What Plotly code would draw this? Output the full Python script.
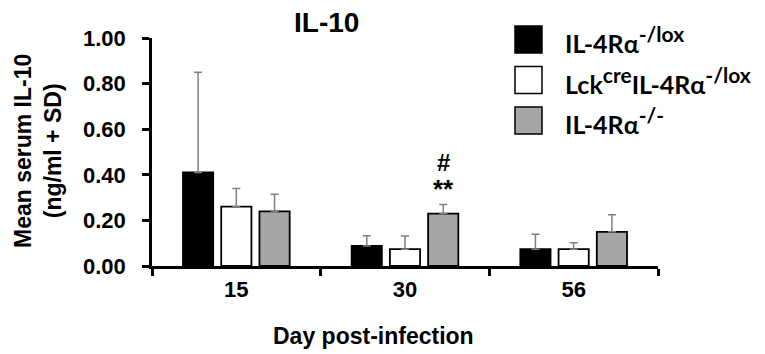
import plotly.graph_objects as go

days = ["15", "30", "56"]
sup = '<sup><span style="font-size:21px">{}</span></sup>'
series_names = ["IL-4Rα" + sup.format("-/lox"),
                "Lck" + sup.format("cre") + "IL-4Rα" + sup.format("-/lox"),
                "IL-4Rα" + sup.format("-/-")]
means_lox = [0.41, 0.088, 0.074]
means_lckcre = [0.26, 0.074, 0.074]
means_ko = [0.24, 0.23, 0.15]
sd_lox = [0.44, 0.045, 0.065]
sd_lckcre = [0.08, 0.058, 0.028]
sd_ko = [0.075, 0.04, 0.075]
colors = ["#000000", "#ffffff", "#a6a6a6"]
y_ticks = [0, 0.2, 0.4, 0.6, 0.8, 1.0]

means = [means_lox, means_lckcre, means_ko]
sds = [sd_lox, sd_lckcre, sd_ko]

fig = go.Figure()
for name, m, s, c in zip(series_names, means, sds, colors):
    fig.add_trace(go.Bar(
        x=days, y=m, name=name, marker=dict(color=c, line=dict(color="#000000", width=1.8)),
        error_y=dict(type="data", array=s, arrayminus=[0] * len(s), symmetric=False,
                     color="#7f7f7f", thickness=1.5, width=4),
        showlegend=False,
    ))

bold = "Liberation Sans, Arial, sans-serif"
tick_font = dict(family=bold, size=22, color="#000000", weight="bold")
# page body has an 8px margin, so the figure is drawn 8px smaller
fig.update_layout(
    width=757, height=346,
    margin=dict(l=144, r=107, t=30, b=88),
    paper_bgcolor="#ffffff", plot_bgcolor="#ffffff",
    barmode="group", bargap=0.32, bargroupgap=0.21,
    font=dict(family=bold, size=22, color="#000000"),
    xaxis=dict(type="category", showline=True, linecolor="#000000", linewidth=2.5,
               ticks="outside", tickson="boundaries", ticklen=7, tickwidth=2.5, tickcolor="#000000",
               tickfont=tick_font, showgrid=False, zeroline=False, ticklabelstandoff=2),
    yaxis=dict(range=[0, 1.0], tickvals=y_ticks, tickformat=".2f", showline=True,
               linecolor="#000000", linewidth=2.5, ticks="outside", ticklen=7, tickwidth=2.5,
               tickcolor="#000000", showgrid=False, zeroline=False,
               tickfont=tick_font, ticklabelstandoff=12),
)

# Title
fig.add_annotation(text="<b>IL-10</b>", xref="paper", yref="paper", x=(326 - 152) / 506, y=(266 - 22) / 228,
                   showarrow=False, font=dict(family=bold, size=28, color="#000000"),
                   xanchor="center", yanchor="middle")
# Y title
fig.add_annotation(text="<b>Mean serum IL-10<br>(ng/ml + SD)</b>", xref="paper", yref="paper",
                   x=(38 - 152) / 506, y=(266 - 151) / 228, textangle=-90, showarrow=False,
                   font=dict(family=bold, size=23, color="#000000"), xanchor="center", yanchor="middle")
# X title
fig.add_annotation(text="<b>Day post-infection</b>", xref="paper", yref="paper",
                   x=(373 - 152) / 506, y=(266 - 336) / 228, showarrow=False,
                   font=dict(family=bold, size=23, color="#000000"), xanchor="center", yanchor="middle")
# Significance marks over day 30 KO bar
fig.add_annotation(text="<b>#</b>", x=1 + 38 / 168, y=(266 - 162) / 228, xref="x", yref="y", showarrow=False,
                   font=dict(family=bold, size=24, color="#000000"), xanchor="center", yanchor="middle",
                   height=20)
fig.add_annotation(text="<b>**</b>", x=1 + 38 / 168, y=(266 - 189) / 228, xref="x", yref="y", showarrow=False,
                   font=dict(family=bold, size=26, color="#000000"), xanchor="center", yanchor="middle",
                   height=20)

# Legend (manual, large boxes)
box_centers = [39.5, 80, 120.5]
text_centers = [39, 80, 120]
for name, c, bc, tc in zip(series_names, colors, box_centers, text_centers):
    fig.add_shape(type="rect", xref="paper", yref="paper",
                  x0=(515 - 152) / 506, x1=(542 - 152) / 506,
                  y0=(266 - (bc + 13.5)) / 228, y1=(266 - (bc - 13.5)) / 228,
                  fillcolor=c, line=dict(color="#000000", width=1.5))
    fig.add_annotation(text="<b>" + name + "</b>", xref="paper", yref="paper",
                       x=(563 - 152) / 506, y=(266 - tc) / 228, showarrow=False,
                       font=dict(family="Lato, Open Sans, sans-serif", size=25, color="#000000"),
                       xanchor="left", yanchor="middle")

fig.write_html("out.html")
